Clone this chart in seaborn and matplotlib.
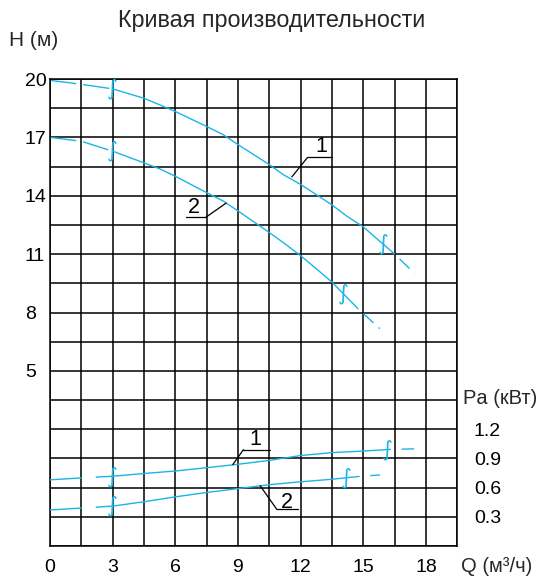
import numpy as np
import matplotlib
matplotlib.use("Agg")
import matplotlib.pyplot as plt
import seaborn as sns

# Head curves H(Q), m
q_h1 = [0, 1.5, 3, 4.5, 5.26, 6, 7.5, 8.29, 9, 10.5, 11.16, 12, 13.5, 14.2, 15, 16.5, 17.46]
h1 = [19.93, 19.73, 19.49, 19.01, 18.67, 18.33, 17.56, 17.14, 16.63, 15.6, 15.09, 14.58,
      13.53, 12.96, 12.4, 11.0, 10.0]
q_h2 = [0, 1.5, 3, 4.5, 5.26, 6, 7.5, 8.29, 9, 10.5, 11.16, 12, 12.76, 13.5, 14.75, 15.79]
h2 = [17.0, 16.8, 16.29, 15.69, 15.38, 15.0, 14.16, 13.73, 13.22, 12.11, 11.6, 10.92,
      10.24, 9.56, 8.19, 7.17]

# Power curves Pa(Q), kW
q_p1 = [0, 1.5, 3, 4.5, 6, 7.5, 9, 10.5, 12, 13.5, 15, 16.3, 17.8]
p1 = [0.68, 0.70, 0.717, 0.745, 0.771, 0.805, 0.84, 0.88, 0.93, 0.96, 0.976, 0.993, 1.0]
q_p2 = [0, 1.5, 3, 4.5, 6, 7.5, 9, 10.5, 12, 13.5, 14.8, 15.8]
p2 = [0.37, 0.39, 0.41, 0.455, 0.505, 0.55, 0.59, 0.63, 0.66, 0.686, 0.715, 0.73]

# Working range of each pump (solid part of the curve) and its end marks
work_start = 3.0
work_end_h = [16.5, 14.75]
work_end_p = [16.3, 14.8]
mark_end_h = [15.95, 14.05]
mark_end_p = [16.15, 14.2]

x_ticks = [0, 3, 6, 9, 12, 15, 18]
h_ticks = [5, 8, 11, 14, 17, 20]
p_ticks = [0.3, 0.6, 0.9, 1.2]

title = "Кривая производительности"
curve_color = "#19b5e8"

sns.set_style("white")
plt.rcParams["font.family"] = ["Liberation Sans", "DejaVu Sans"]

W, H = 537, 578
fig = plt.figure(figsize=(W / 100, H / 100), dpi=100)
L, R, T, B = 50, 457.3, 79, 546
ax = fig.add_axes([L / W, 1 - B / H, (R - L) / W, (B - T) / H])
ax2 = ax.twinx()

ax.set_xlim(0, 19.5)
ax.set_ylim(-4, 20)
ax2.set_ylim(0, 4.8)

# grid every 1.5 units, labels every 3
gx = np.arange(0, 19.51, 1.5)
gy = np.arange(-4, 20.01, 1.5)
ax.set_xticks(gx)
ax.set_xticklabels([str(int(v)) if any(abs(v - t) < 1e-6 for t in x_ticks) else "" for v in gx])
ax.set_yticks(gy)
ax.set_yticklabels([str(int(round(v))) if any(abs(v - t) < 1e-6 for t in h_ticks) else "" for v in gy])
ax.grid(True, color="black", lw=1.1)
ax.set_axisbelow(True)
for s in ax.spines.values():
    s.set_color("black")
    s.set_linewidth(1.1)
tick_fs = 14
ax.tick_params(axis="both", length=0, labelsize=tick_fs, colors="black")
ax.tick_params(axis="x", pad=9)
ax.tick_params(axis="y", pad=18)
for lab in ax.get_yticklabels():
    lab.set_horizontalalignment("left")

ax2.set_yticks(p_ticks)
ax2.set_yticklabels([f"{v:.1f}" for v in p_ticks])
ax2.tick_params(axis="y", length=0, labelsize=tick_fs, pad=12, colors="black")
ax2.grid(False)
for s in ax2.spines.values():
    s.set_visible(False)

lw = 1.0


def draw_curve(axis, q, v, q_end, mark_q, head_dash, tail_dash):
    q = np.asarray(q, float)
    v = np.asarray(v, float)
    head = q <= work_start
    mid = (q >= work_start) & (q <= q_end)
    tail = q >= q_end
    sns.lineplot(x=q[head], y=v[head], ax=axis, color=curve_color, lw=lw,
                 linestyle=head_dash, sort=False, estimator=None)
    sns.lineplot(x=q[mid], y=v[mid], ax=axis, color=curve_color, lw=lw,
                 sort=False, estimator=None)
    sns.lineplot(x=q[tail], y=v[tail], ax=axis, color=curve_color, lw=lw,
                 linestyle=tail_dash, sort=False, estimator=None)
    for mq in (work_start, mark_q):
        axis.text(mq, np.interp(mq, q, v), "∫", color=curve_color, fontsize=15,
                  ha="center", va="center", family="DejaVu Sans")


draw_curve(ax, q_h1, h1, work_end_h[0], mark_end_h[0], (0, (19, 5)), (10, (10, 5)))
draw_curve(ax, q_h2, h2, work_end_h[1], mark_end_h[1], (0, (19, 5)), (10, (10, 5)))
draw_curve(ax2, q_p1, p1, work_end_p[0], mark_end_p[0], (0, (23, 10)), (9, (9, 8)))
draw_curve(ax2, q_p2, p2, work_end_p[1], mark_end_p[1], (0, (23, 10)), (9, (9, 8)))

ax.set_xlabel("")
ax.set_ylabel("")
ax2.set_xlabel("")
ax2.set_ylabel("")


def callout(axis, text, tx, ty, ux0, ux1, uy, px, py, from_left):
    axis.text(tx, ty, text, fontsize=15.5, ha="center", va="center", color="black")
    axis.plot([ux0, ux1], [uy, uy], color="black", lw=0.9)
    sx = ux0 if from_left else ux1
    axis.plot([sx, px], [uy, py], color="black", lw=0.9)


callout(ax, "1", 12.97, 16.55, 12.33, 13.5, 15.97, 11.58, 14.97, True)
callout(ax, "2", 6.87, 13.4, 6.52, 7.47, 12.9, 8.43, 13.62, False)
callout(ax2, "1", 9.82, 1.094, 9.26, 10.51, 0.99, 8.75, 0.836, True)
callout(ax2, "2", 11.34, 0.443, 10.86, 11.85, 0.376, 10.06, 0.62, True)

fig.text(272 / W, 1 - 21 / H, title, fontsize=16.8, ha="center", va="center")
fig.text(9 / W, 1 - 40 / H, "H (м)", fontsize=15, ha="left", va="center")
fig.text(463 / W, 1 - 399 / H, "Pa (кВт)", fontsize=14.5, ha="left", va="center")
fig.text(461 / W, 1 - 566 / H, "Q (м³/ч)", fontsize=14.5, ha="left", va="center")

fig.savefig("out.png", dpi=100)
